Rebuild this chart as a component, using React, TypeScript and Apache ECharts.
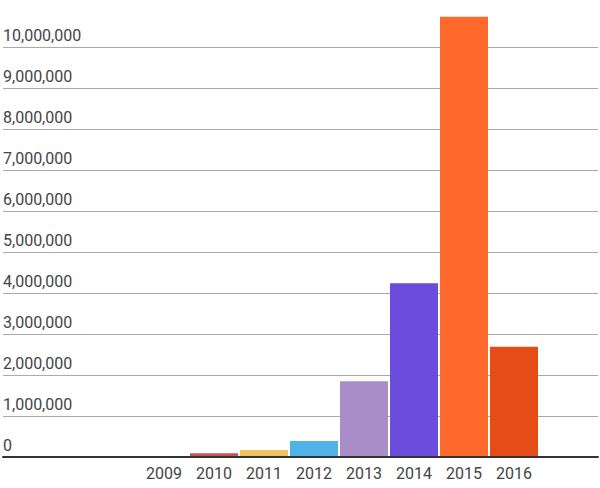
import React, { useEffect, useRef } from "react";
import * as echarts from "echarts";

const years = ["2009", "2010", "2011", "2012", "2013", "2014", "2015", "2016"];
const values = [0, 90000, 170000, 390000, 1850000, 4240000, 10740000, 2690000];
const barColors = ["#c9524f", "#c9524f", "#eec462", "#4fb3e8", "#a98dc9", "#6b4cdc", "#ff6a2c", "#e64d16"];
const yMax = 10000000;
const yStep = 1000000;

const fmt = (v: number) => Math.round(v).toLocaleString("en-US");

export default function App() {
  const ref = useRef<HTMLDivElement>(null);
  useEffect(() => {
    if (!ref.current) return;
    const chart = echarts.init(ref.current, undefined, { renderer: "svg" });
    const font = "Roboto, 'Noto Sans', sans-serif";
    chart.setOption({
      animation: false,
      backgroundColor: "#ffffff",
      textStyle: { fontFamily: font },
      grid: [
        { left: 3, right: 2, top: 47, bottom: 31, containLabel: false },
        { left: 139, width: 400, top: 47, bottom: 31, containLabel: false },
      ],
      xAxis: [
        {
          gridIndex: 0,
          type: "category",
          data: [""],
          axisLine: { show: true, lineStyle: { color: "#333333", width: 2 } },
          axisTick: { show: false },
          axisLabel: { show: false },
          splitLine: { show: false },
          z: 5,
        },
        {
          gridIndex: 1,
          type: "category",
          data: years,
          axisLine: { show: false },
          axisTick: { show: false },
          axisLabel: { color: "#444444", fontSize: 16, fontFamily: font, margin: 8 },
          splitLine: { show: false },
        },
      ],
      yAxis: [
        {
          gridIndex: 0,
          type: "value",
          min: 0,
          max: yMax,
          interval: yStep,
          axisLine: { show: false },
          axisTick: { show: false },
          axisLabel: {
            inside: true,
            margin: 0,
            align: "left",
            verticalAlign: "bottom",
            lineHeight: 16,
            padding: [0, 0, 4, 0],
            color: "#444444",
            fontSize: 16,
            fontFamily: font,
            formatter: (v: number) => fmt(v),
          },
          splitLine: { show: true, lineStyle: { color: "#aaaaaa", width: 1.2 } },
        },
        {
          gridIndex: 1,
          type: "value",
          min: 0,
          max: yMax,
          interval: yStep,
          show: false,
        },
      ],
      series: [
        {
          type: "bar",
          xAxisIndex: 1,
          yAxisIndex: 1,
          clip: false,
          barWidth: 48,
          data: values.map((v, i) => ({ value: v, itemStyle: { color: barColors[i] } })),
          z: 2,
        },
      ],
    });
    return () => chart.dispose();
  }, []);
  return <div ref={ref} style={{ width: 600, height: 488, position: "absolute", left: 0, top: 0 }} />;
}
